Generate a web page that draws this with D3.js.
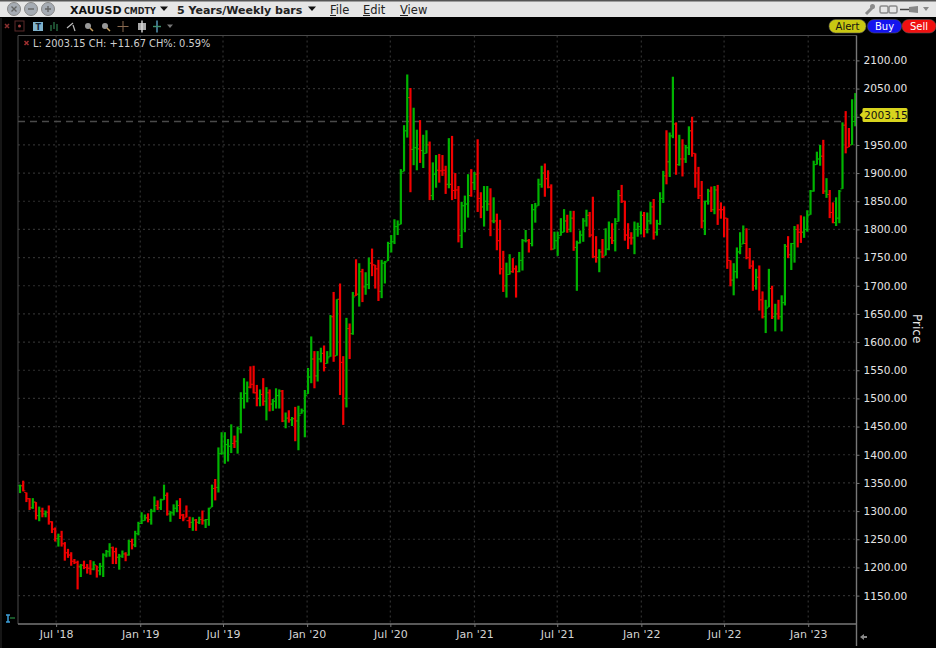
<!DOCTYPE html>
<html><head><meta charset="utf-8">
<script src="https://cdn.jsdelivr.net/npm/d3@7"></script>
<style>
html,body{margin:0;padding:0;background:#000;overflow:hidden}
svg{display:block}
text{font-family:"DejaVu Sans",sans-serif}
</style></head><body>
<svg id="c" width="936" height="648"></svg>
<script>
const highs=[
1347,1354,1333,1323,1323,1316,1308,1306,1301,1310,
1282,1271,1260,1265,1245,1233,1227,1215,1212,1206,
1212,1206,1213,1211,1203,1208,1225,1231,1243,1237,
1235,1224,1230,1227,1249,1251,1265,1281,1298,1294,
1296,1304,1326,1319,1322,1347,1333,1300,1312,1319,
1323,1295,1310,1290,1289,1286,1290,1301,1286,1306,
1347,1357,1413,1440,1440,1428,1454,1434,1450,1511,
1536,1530,1557,1558,1524,1516,1536,1520,1516,1499,
1518,1516,1515,1475,1479,1467,1485,1487,1482,1515,
1554,1610,1584,1584,1590,1594,1584,1648,1689,1676,
1704,1575,1643,1633,1689,1747,1740,1730,1724,1750,
1766,1737,1746,1746,1744,1778,1790,1818,1816,1907,
1985,2075,2051,2016,1977,1994,1968,1976,1956,1919,
1932,1934,1932,1913,1962,1966,1900,1877,1849,1860,
1898,1907,1902,1960,1866,1877,1877,1873,1857,1828,
1817,1762,1741,1756,1749,1736,1760,1783,1799,1783,
1845,1847,1890,1913,1917,1905,1880,1796,1796,1820,
1836,1826,1833,1833,1780,1798,1820,1835,1831,1858,
1788,1765,1783,1802,1814,1811,1820,1870,1879,1851,
1811,1795,1814,1812,1832,1831,1830,1849,1854,1817,
1866,1904,1976,1972,2071,1990,1968,1960,1950,1983,
2000,1935,1911,1886,1851,1872,1876,1877,1879,1848,
1841,1820,1745,1740,1768,1795,1807,1802,1767,1745,
1730,1736,1690,1675,1730,1700,1668,1675,1683,1774,
1788,1776,1806,1809,1825,1823,1834,1870,1922,1938,
1950,1959,1891,1870,1848,1857,1870,1990,2010,1980,
2031,2042];
const lows=[
1332,1335,1316,1302,1304,1285,1282,1289,1289,1276,
1261,1246,1237,1237,1212,1217,1203,1206,1161,1183,
1197,1189,1187,1195,1182,1186,1183,1218,1219,1206,
1206,1196,1217,1211,1221,1232,1236,1257,1277,1283,
1280,1276,1298,1302,1302,1320,1292,1281,1292,1298,
1286,1282,1289,1270,1265,1265,1277,1276,1270,1274,
1307,1319,1333,1400,1384,1388,1403,1412,1402,1438,
1482,1493,1518,1509,1486,1486,1487,1461,1477,1478,
1482,1482,1458,1447,1457,1451,1424,1408,1473,1431,
1508,1527,1518,1530,1564,1548,1562,1574,1565,1576,
1506,1453,1484,1570,1613,1682,1663,1671,1684,1694,
1717,1695,1673,1678,1704,1744,1759,1774,1790,1809,
1903,1963,1866,1914,1905,1918,1909,1935,1852,1852,
1874,1883,1895,1863,1873,1852,1854,1777,1767,1795,
1821,1858,1870,1831,1820,1805,1833,1788,1811,1763,
1720,1689,1679,1720,1723,1679,1724,1727,1777,1759,
1770,1812,1842,1874,1858,1873,1763,1765,1753,1789,
1795,1794,1795,1762,1691,1775,1778,1805,1786,1749,
1741,1724,1749,1754,1763,1774,1761,1814,1847,1780,
1765,1773,1756,1787,1791,1786,1793,1809,1782,1789,
1808,1847,1880,1893,1962,1897,1913,1894,1918,1932,
1929,1874,1854,1802,1790,1844,1831,1827,1808,1819,
1786,1730,1699,1683,1713,1756,1774,1747,1730,1691,
1693,1656,1642,1616,1662,1641,1619,1640,1619,1665,
1749,1728,1741,1768,1776,1785,1796,1826,1867,1915,
1913,1863,1856,1820,1811,1806,1811,1872,1935,1946,
1950,1983];
const closes=[
1345,1336,1322,1306,1316,1292,1300,1295,1298,1281,
1268,1251,1255,1242,1226,1222,1211,1209,1202,1204,
1200,1198,1197,1205,1194,1202,1222,1228,1235,1228,
1218,1220,1224,1222,1246,1240,1260,1278,1283,1288,
1285,1300,1310,1306,1320,1328,1295,1297,1305,1310,
1293,1286,1283,1280,1284,1280,1285,1283,1285,1305,
1340,1342,1402,1403,1418,1415,1420,1424,1446,1500,
1509,1520,1525,1510,1500,1507,1495,1510,1490,1495,
1505,1513,1460,1465,1462,1464,1460,1470,1478,1505,
1538,1570,1540,1570,1580,1555,1572,1645,1575,1676,
1564,1500,1624,1615,1680,1685,1725,1698,1702,1740,
1737,1730,1690,1740,1742,1775,1778,1805,1808,1900,
1975,2034,1942,1945,1943,1940,1935,1950,1860,1898,
1905,1904,1905,1880,1880,1869,1870,1789,1842,1845,
1860,1883,1898,1855,1840,1850,1845,1815,1815,1780,
1730,1700,1720,1725,1730,1725,1745,1780,1780,1775,
1835,1840,1880,1900,1890,1875,1765,1780,1785,1795,
1815,1800,1820,1768,1776,1790,1815,1825,1790,1752,
1750,1760,1752,1765,1785,1780,1810,1860,1850,1790,
1785,1785,1800,1805,1825,1800,1815,1840,1795,1810,
1855,1895,1920,1966,1987,1915,1925,1925,1945,1975,
1935,1900,1860,1815,1850,1868,1835,1870,1835,1835,
1820,1745,1710,1725,1760,1770,1775,1750,1735,1700,
1715,1675,1645,1660,1695,1645,1650,1645,1670,1770,
1755,1775,1800,1795,1795,1800,1825,1868,1915,1925,
1930,1868,1862,1830,1812,1820,1868,1985,1945,1950,
1991.48,2003.15];
const upDown=[
"u","d","d","d","u","d","u","d","u","d",
"d","d","u","d","d","d","d","d","d","u",
"d","d","d","u","d","u","u","u","u","d",
"d","u","u","d","u","d","u","u","u","u",
"d","u","u","d","u","u","d","u","u","u",
"d","d","d","d","u","d","u","d","u","u",
"u","d","u","u","u","u","u","d","u","u",
"u","u","d","d","d","u","d","u","d","u",
"u","u","d","u","d","u","d","u","u","u",
"u","u","d","u","u","d","u","u","d","u",
"d","d","u","d","u","d","u","d","u","u",
"d","d","d","u","u","u","u","u","u","u",
"u","u","d","u","u","d","u","u","d","u",
"u","d","d","d","u","d","d","d","u","u",
"u","d","u","d","d","u","u","d","u","d",
"d","d","u","u","d","d","u","u","u","d",
"u","u","u","u","d","d","d","u","u","u",
"u","d","u","d","u","u","u","u","d","d",
"d","u","d","u","u","d","u","u","d","d",
"d","d","u","u","u","d","u","u","d","u",
"u","u","d","u","u","d","u","d","u","u",
"d","d","d","d","u","u","d","u","d","d",
"d","d","d","u","u","u","u","d","d","d",
"u","d","d","u","u","d","u","d","u","u",
"d","u","u","d","d","u","u","u","u","u",
"u","d","u","d","d","u","u","u","d","d",
"u","u"];
const firstBar=new Date(2018,3,13);
const barDates=highs.map((_,i)=>d3.timeDay.offset(firstBar,i*7));
const yTicks=[1150,1200,1250,1300,1350,1400,1450,1500,1550,1600,1650,1700,1750,1800,1850,1900,1950,2000,2050,2100];
const xTickDates=[new Date(2018,6,1),new Date(2019,0,1),new Date(2019,6,1),new Date(2020,0,1),new Date(2020,6,1),new Date(2021,0,1),new Date(2021,6,1),new Date(2022,0,1),new Date(2022,6,1),new Date(2023,0,1)];
const lastPrice=2003.15, prevClose=1991.48;

const UP="#00b400", DOWN="#f20000", GRID="#2f2f2f", AXIS="#777", TXT="#e4e4e4";
const svg=d3.select("#c");
const x=d3.scaleTime().domain([barDates[0],barDates[barDates.length-1]]).range([20,855.3]);
const y=d3.scaleLinear().domain([1150,2100]).range([595.6,60.4]);
const L=18,R=856.5,T=35.5,B=624;

svg.append("rect").attr("width",936).attr("height",648).attr("fill","#000");
svg.append("line").attr("x1",1).attr("x2",1).attr("y1",18).attr("y2",648).attr("stroke","#2c2c2c");

const grid=svg.append("g");
grid.selectAll("line.h").data(yTicks).join("line").attr("class","h")
  .attr("x1",L).attr("x2",R).attr("y1",d=>y(d)).attr("y2",d=>y(d))
  .attr("stroke",GRID).attr("stroke-width",1.2).attr("stroke-dasharray","2 3");
grid.selectAll("line.v").data(xTickDates).join("line").attr("class","v")
  .attr("x1",d=>x(d)).attr("x2",d=>x(d)).attr("y1",T).attr("y2",B)
  .attr("stroke",GRID).attr("stroke-width",1.2).attr("stroke-dasharray","2 3");

svg.append("line").attr("x1",L).attr("x2",842).attr("y1",y(prevClose)).attr("y2",y(prevClose))
  .attr("stroke","#4a4a4a").attr("stroke-width",1.4).attr("stroke-dasharray","7 5");

const bars=highs.map((h,i)=>({d:barDates[i],h,l:lows[i],c:closes[i],o:Math.min(h,Math.max(lows[i],i?closes[i-1]:closes[i])),up:upDown[i]==="u"}));
const g=svg.append("g").selectAll("g").data(bars).join("g").attr("stroke",d=>d.up?UP:DOWN);
g.append("line").attr("x1",d=>x(d.d)).attr("x2",d=>x(d.d)).attr("y1",d=>y(d.h)).attr("y2",d=>y(d.l)).attr("stroke-width",2.2);
g.append("line").attr("x1",d=>x(d.d)-2.2).attr("x2",d=>x(d.d)).attr("y1",d=>y(d.o)).attr("y2",d=>y(d.o)).attr("stroke-width",.9);
g.append("line").attr("x1",d=>x(d.d)).attr("x2",d=>x(d.d)+2.2).attr("y1",d=>y(d.c)).attr("y2",d=>y(d.c)).attr("stroke-width",.9);

svg.append("path").attr("d",`M${L},${B}V${T}H${R}`).attr("fill","none").attr("stroke","#4a4a4a").attr("stroke-width",1);
svg.append("line").attr("x1",R).attr("x2",R).attr("y1",T).attr("y2",646).attr("stroke",AXIS).attr("stroke-width",1.4);
svg.append("line").attr("x1",L).attr("x2",R).attr("y1",B).attr("y2",B).attr("stroke",AXIS).attr("stroke-width",1.6);

const ya=svg.append("g").attr("transform",`translate(${R},0)`)
  .call(d3.axisRight(y).tickValues(yTicks).tickSize(3).tickPadding(4).tickFormat(d3.format(".2f")));
ya.select(".domain").remove();
ya.selectAll("line").attr("stroke",AXIS);
ya.selectAll("text").attr("fill",TXT).style("font-size","10.6px");
ya.selectAll(".tick").filter(d=>d===2000).select("text").attr("opacity",0);

const monthFmt=d3.timeFormat("%b '%y");
const xa=svg.append("g").attr("transform",`translate(0,${B})`)
  .call(d3.axisBottom(x).tickValues(xTickDates).tickSize(3).tickPadding(3).tickFormat(monthFmt));
xa.select(".domain").remove();
xa.selectAll("line").attr("stroke",AXIS);
xa.selectAll("text").attr("fill","#d4d4d4").style("font-size","11px");

const ly=y(lastPrice);
svg.append("path").attr("d",`M859.5,${ly}l3,-3v-3a1.5,1.5 0 0 1 1.5,-1h42a1.5,1.5 0 0 1 1.5,1.5v11a1.5,1.5 0 0 1 -1.5,1.5h-42a1.5,1.5 0 0 1 -1.5,-1.5v-3z`).attr("fill","#d8d41e");
svg.append("text").attr("x",864).attr("y",ly+3.9).attr("font-size",10.6).attr("fill","#111").text(lastPrice.toFixed(2));

svg.append("text").attr("transform","translate(913,314) rotate(90)").attr("font-size",12).attr("fill",TXT).text("Price");

svg.append("path").attr("d","M24.5,41l4,4M28.5,41l-4,4").attr("stroke","#a03030").attr("stroke-width",1.5);
svg.append("text").attr("x",33).attr("y",47).attr("font-size",9.85).attr("fill","#cfcfcf").text("L: 2003.15 CH: +11.67 CH%: 0.59%");

svg.append("rect").attr("x",0).attr("y",0).attr("width",936).attr("height",18).attr("fill","#000");
svg.append("rect").attr("x",0).attr("y",1).attr("width",936).attr("height",16).attr("fill","#e6e6e6");
svg.append("rect").attr("x",0).attr("y",0).attr("width",936).attr("height",1.5).attr("fill","#555");
[[14,"x"],[31,"-"],[48,"+"]].forEach(([cx,s])=>{
  svg.append("circle").attr("cx",cx).attr("cy",9).attr("r",6.5).attr("fill","#a6acb4").attr("stroke","#888");
  const p=s==="x"?`M${cx-2.5},6.5l5,5M${cx+2.5},6.5l-5,5`:s==="-"?`M${cx-3},9h6`:`M${cx-3},9h6M${cx},6v6`;
  svg.append("path").attr("d",p).attr("stroke","#666").attr("stroke-width",1.4);
});
const H=(xp,t,sz,bold,fill)=>svg.append("text").attr("x",xp).attr("y",14).attr("font-size",sz).attr("font-weight",bold?"bold":"normal").attr("fill",fill||"#111").text(t);
H(70,"XAUUSD",11,true);
H(124,"CMDTY",8,true,"#222");
svg.append("path").attr("d","M160,6.5h8l-4,4.5z").attr("fill","#111");
H(177,"5 Years/Weekly bars",11,true,"#222");
svg.append("path").attr("d","M308,6.5h8l-4,4.5z").attr("fill","#111");
H(330,"File",11.5,false,"#222");
H(363,"Edit",11.5,false,"#222");
H(400,"View",11.5,false,"#222");
[[330,336],[363,370],[400,408]].forEach(([a,b])=>svg.append("line").attr("x1",a).attr("x2",b).attr("y1",15.5).attr("y2",15.5).attr("stroke","#222"));
svg.append("path").attr("d","M866,14l7,-7").attr("stroke","#8a8a8a").attr("stroke-width",3);
svg.append("circle").attr("cx",872.5).attr("cy",6.5).attr("r",2.5).attr("fill","#8a8a8a");
svg.append("rect").attr("x",880).attr("y",6).attr("width",8).attr("height",7).attr("rx",1.5).attr("fill","none").attr("stroke","#8a8a8a").attr("stroke-width",1.5);
svg.append("rect").attr("x",889).attr("y",6).attr("width",8).attr("height",7).attr("rx",1.5).attr("fill","none").attr("stroke","#8a8a8a").attr("stroke-width",1.5);
svg.append("path").attr("d","M900,9.5h9").attr("stroke","#444").attr("stroke-width",1.5);
svg.append("path").attr("d","M909,7l9,-1v7l-9,-1z").attr("fill","#888");
svg.append("path").attr("d","M923,7h6l-3,4z").attr("fill","#888");

[["Alert",829,37,"#c9c712","#111"],["Buy",867.5,34,"#1414ee","#fff"],["Sell",902,34,"#f01010","#fff"]].forEach(([t,xp,w,f,c])=>{
  svg.append("rect").attr("x",xp).attr("y",19.5).attr("width",w).attr("height",13.5).attr("rx",6.5).attr("fill",f).attr("stroke","#555").attr("stroke-width",.6);
  svg.append("text").attr("x",xp+w/2).attr("y",30).attr("text-anchor","middle").attr("font-size",10).attr("fill",c).text(t);
});

const tb=svg.append("g");
tb.append("path").attr("d","M5,24l4,4M9,24l-4,4").attr("stroke","#8a3030").attr("stroke-width",1.5);
tb.append("rect").attr("x",15).attr("y",21).attr("width",9).attr("height",10).attr("fill","none").attr("stroke","#5a2a2a");
tb.append("circle").attr("cx",19.5).attr("cy",26).attr("r",1.5).attr("fill","#a04040");
tb.append("rect").attr("x",33).attr("y",22).attr("width",10).attr("height",9).attr("fill","#7fb2cc");
tb.append("text").attr("x",35.5).attr("y",30).attr("font-size",8).attr("font-weight","bold").attr("fill","#123").text("T");
tb.append("path").attr("d","M51,31v-6M54,29v-7M57,31v-7").attr("stroke","#2f7f4f").attr("stroke-width",1.2);
tb.append("path").attr("d","M67,28l6,-5M73,25l2,6").attr("stroke","#bbb").attr("stroke-width",1.2);
[88,105].forEach(cx=>{
  tb.append("circle").attr("cx",cx).attr("cy",26).attr("r",3).attr("fill","#999");
  tb.append("path").attr("d",`M${cx+2},28l3,3`).attr("stroke","#c8a060").attr("stroke-width",1.5);
});
tb.append("path").attr("d","M123,21v11M117.5,26.5h11").attr("stroke","#8a6a50");
tb.append("rect").attr("x",138).attr("y",23).attr("width",8).attr("height",7).attr("fill","#aaa");
tb.append("path").attr("d","M142,20.5v12").attr("stroke","#ddd").attr("stroke-width",1.4);
tb.append("path").attr("d","M157,20.5v12").attr("stroke","#5aa0c0").attr("stroke-width",1.4);
tb.append("path").attr("d","M153,26.5h8").attr("stroke","#3f8f6f").attr("stroke-width",1.4);
tb.append("path").attr("d","M167,24.5h6l-3,3.5z").attr("fill","#777");

svg.append("path").attr("d","M6,615h4M6,622h4M8,615v7").attr("stroke","#3c9fd8").attr("stroke-width",1.5);
svg.append("path").attr("d","M10,618h5").attr("stroke","#2fa84f").attr("stroke-width",1);
svg.append("path").attr("d","M860,637l4,-3v2h3v2h-3v2z").attr("fill","#888");
</script>
</body></html>
